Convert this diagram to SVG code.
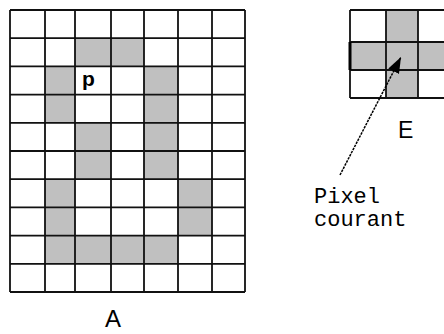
<svg xmlns="http://www.w3.org/2000/svg" width="444" height="334" viewBox="0 0 444 334">
<style>
.bg{fill:#ffffff}
.g{fill:#c0c0c0}
.ln{stroke:#111;stroke-width:1.8;fill:none}
.lbl{font-family:"Liberation Sans",Arial,sans-serif;fill:#000}
.mono{font-family:"Liberation Mono","Courier New",monospace;font-size:22px;fill:#000}
.conn{stroke:#000;stroke-width:1.5;stroke-dasharray:2.5 1;fill:none}
</style>
<defs>
<marker id="ah" markerUnits="userSpaceOnUse" markerWidth="18" markerHeight="14" refX="16" refY="6" orient="auto">
<path d="M0,0 L16,6 L0,12 z" fill="#000"/>
</marker>
</defs>
<rect class="bg" x="0" y="0" width="444" height="334"/>
<g id="gridA">
<rect class="g" x="75" y="38.2" width="69" height="28.2"/>
<rect class="g" x="45" y="66.4" width="30" height="56.4"/>
<rect class="g" x="144" y="66.4" width="34" height="112.8"/>
<rect class="g" x="75" y="122.8" width="36" height="56.4"/>
<rect class="g" x="45" y="179.2" width="30" height="56.4"/>
<rect class="g" x="178" y="179.2" width="34" height="56.4"/>
<rect class="g" x="45" y="235.6" width="133" height="28.2"/>
<path class="ln" d="M10,10V292M45,10V292M75,10V292M111,10V292M144,10V292M178,10V292M212,10V292M245,10V292
M10,10H245M10,38.2H245M10,66.4H245M10,94.6H245M10,122.8H245M10,151H245M10,179.2H245M10,207.4H245M10,235.6H245M10,263.8H245M10,292H245"/>
<text class="lbl" x="82" y="86" font-size="21" font-weight="bold">p</text>
</g>
<g id="labelA">
<text class="lbl" x="105" y="327" font-size="24">A</text>
</g>
<g id="gridE">
<rect class="g" x="386" y="10" width="32" height="88"/>
<rect class="g" x="350" y="42" width="100" height="28"/>
<path class="ln" d="M350,10V98M386,10V98M418,10V98M450,10V98M350,10H450M350,42H450M350,70H450M350,98H450"/>
<path d="M350,42V70" stroke="#000" stroke-width="3"/>
</g>
<g id="labelE">
<text class="lbl" x="398" y="138" font-size="23">E</text>
</g>
<g id="labelPixel">
<text class="mono" x="314" y="203">Pixel</text>
<text class="mono" x="314" y="226">courant</text>
</g>
<g id="connectors">
<line class="conn" x1="340" y1="175" x2="401" y2="57" marker-end="url(#ah)"/>
</g>
</svg>
